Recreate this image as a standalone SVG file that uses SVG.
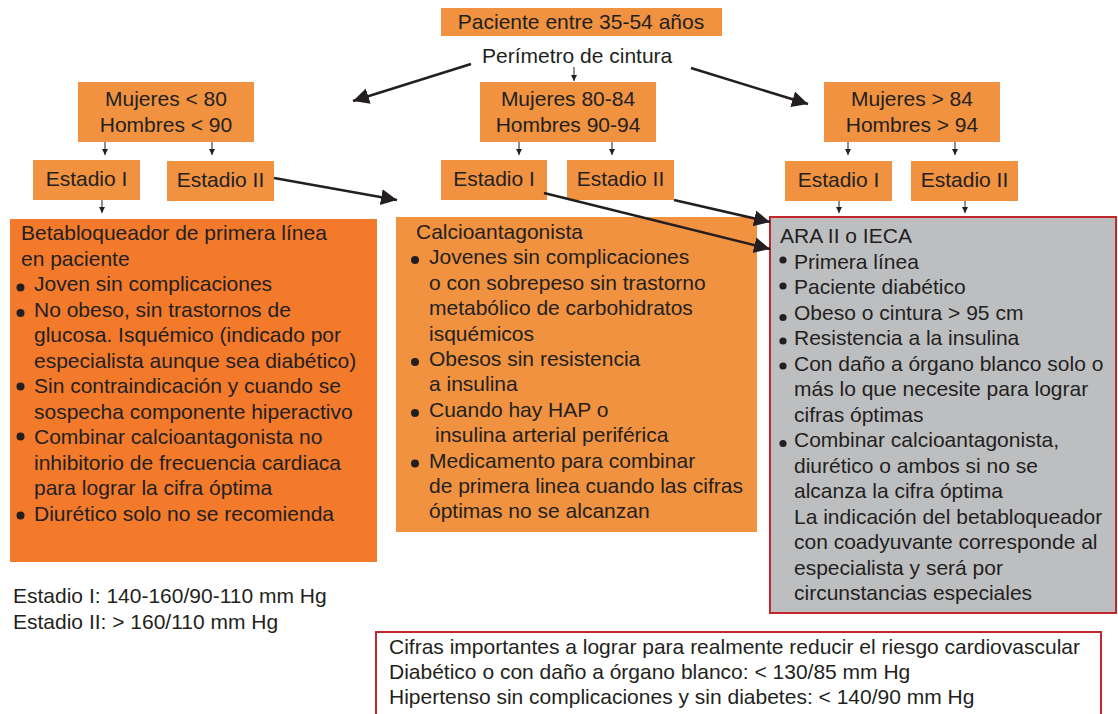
<svg xmlns="http://www.w3.org/2000/svg" width="1118" height="714" viewBox="0 0 1118 714">
<style>
text{font-family:"Liberation Sans",Arial,sans-serif;font-size:21px;fill:#231F20}
.c{text-anchor:middle}
.o{fill:#F0923F}
.od{fill:#F37A2B}
.g{fill:#BDBEC0;stroke:#C1272D;stroke-width:2}
.w{fill:#FFFFFF;stroke:#C1272D;stroke-width:2}
.big{stroke:#231F20;stroke-width:2.5;fill:none;marker-end:url(#ah)}
.sm{stroke:#231F20;stroke-width:1;fill:none;marker-end:url(#as)}
.b{fill:#231F20}
</style>
<defs>
<marker id="ah" markerUnits="userSpaceOnUse" markerWidth="20" markerHeight="20" viewBox="0 0 20 20" refX="16" refY="8" orient="auto">
<path d="M0,0 L16,8 L0,16 Z" fill="#231F20"/>
</marker>
<marker id="as" markerUnits="userSpaceOnUse" markerWidth="8" markerHeight="8" viewBox="0 0 8 8" refX="6" refY="3" orient="auto">
<path d="M0,0 L6,3 L0,6 Z" fill="#231F20"/>
</marker>
</defs>

<g id="n-top">
<rect class="o" x="441" y="8" width="281" height="28"/>
<text class="c" x="581" y="29">Paciente entre 35-54 años</text>
</g>
<g id="n-perimetro">
<text x="482" y="63">Perímetro de cintura</text>
</g>

<g id="n-m1">
<rect class="o" x="78" y="82" width="176" height="60"/>
<text class="c" x="166" y="106">Mujeres &lt; 80</text>
<text class="c" x="166" y="132">Hombres &lt; 90</text>
</g>
<g id="n-m2">
<rect class="o" x="480" y="82" width="176" height="60"/>
<text class="c" x="568" y="106">Mujeres 80-84</text>
<text class="c" x="568" y="132">Hombres 90-94</text>
</g>
<g id="n-m3">
<rect class="o" x="824" y="82" width="176" height="60"/>
<text class="c" x="912" y="106">Mujeres &gt; 84</text>
<text class="c" x="912" y="132">Hombres &gt; 94</text>
</g>

<g id="n-e1a"><rect class="o" x="33" y="160" width="107" height="40"/><text class="c" x="86.5" y="186">Estadio I</text></g>
<g id="n-e2a"><rect class="o" x="167" y="161" width="107" height="40"/><text class="c" x="220.5" y="187">Estadio II</text></g>
<g id="n-e1b"><rect class="o" x="441" y="160" width="106" height="40"/><text class="c" x="494" y="186">Estadio I</text></g>
<g id="n-e2b"><rect class="o" x="567" y="160" width="107" height="40"/><text class="c" x="620.5" y="186">Estadio II</text></g>
<g id="n-e1c"><rect class="o" x="785" y="161" width="107" height="40"/><text class="c" x="838.5" y="187">Estadio I</text></g>
<g id="n-e2c"><rect class="o" x="911" y="161" width="107" height="40"/><text class="c" x="964.5" y="187">Estadio II</text></g>

<g id="n-beta">
<rect class="od" x="10" y="219" width="367" height="343"/>
<text x="21" y="240">Betabloqueador de primera línea</text>
<text x="21" y="265.5">en paciente</text>
<circle class="b" cx="20.5" cy="287.5" r="4"/><text x="34" y="291">Joven sin complicaciones</text>
<circle class="b" cx="20.5" cy="313" r="4"/><text x="34" y="316.5">No obeso, sin trastornos de</text>
<text x="34" y="342">glucosa. Isquémico (indicado por</text>
<text x="34" y="367.5">especialista aunque sea diabético)</text>
<circle class="b" cx="20.5" cy="386.5" r="4"/><text x="34" y="393">Sin contraindicación y cuando se</text>
<text x="34" y="418.5">sospecha componente hiperactivo</text>
<circle class="b" cx="20.5" cy="436.5" r="4"/><text x="34" y="444">Combinar calcioantagonista no</text>
<text x="34" y="469.5">inhibitorio de frecuencia cardiaca</text>
<text x="34" y="495">para lograr la cifra óptima</text>
<circle class="b" cx="20.5" cy="515.5" r="4"/><text x="34" y="520.5">Diurético solo no se recomienda</text>
</g>

<g id="n-calcio">
<rect class="o" x="396" y="217" width="361" height="315"/>
<text x="416" y="239">Calcioantagonista</text>
<circle class="b" cx="415" cy="260" r="4"/><text x="429" y="264.4">Jovenes sin complicaciones</text>
<text x="429" y="289.8">o con sobrepeso sin trastorno</text>
<text x="429" y="315.2">metabólico de carbohidratos</text>
<text x="429" y="340.6">isquémicos</text>
<circle class="b" cx="415" cy="362" r="4"/><text x="429" y="366">Obesos sin resistencia</text>
<text x="429" y="391.4">a insulina</text>
<circle class="b" cx="415" cy="413" r="4"/><text x="429" y="416.8">Cuando hay HAP o</text>
<text x="435" y="442.2">insulina arterial periférica</text>
<circle class="b" cx="415" cy="463.5" r="4"/><text x="429" y="467.6">Medicamento para combinar</text>
<text x="429" y="493">de primera linea cuando las cifras</text>
<text x="429" y="518.4">óptimas no se alcanzan</text>
</g>

<g id="n-ara">
<rect class="g" x="770" y="217" width="346" height="396"/>
<text x="780" y="243">ARA II o IECA</text>
<circle class="b" cx="783" cy="260" r="3.6"/><text x="794" y="268.5">Primera línea</text>
<circle class="b" cx="783" cy="286" r="3.6"/><text x="794" y="294">Paciente diabético</text>
<circle class="b" cx="783" cy="317.5" r="3.6"/><text x="794" y="319.5">Obeso o cintura &gt; 95 cm</text>
<circle class="b" cx="783" cy="341" r="3.6"/><text x="794" y="345">Resistencia a la insulina</text>
<circle class="b" cx="783" cy="366" r="3.6"/><text x="794" y="370.5">Con daño a órgano blanco solo o</text>
<text x="794" y="396">más lo que necesite para lograr</text>
<text x="794" y="421.5">cifras óptimas</text>
<circle class="b" cx="783" cy="443.5" r="3.6"/><text x="794" y="447">Combinar calcioantagonista,</text>
<text x="794" y="472.5">diurético o ambos si no se</text>
<text x="794" y="498">alcanza la cifra óptima</text>
<text x="794" y="523.5">La indicación del betabloqueador</text>
<text x="794" y="549">con coadyuvante corresponde al</text>
<text x="794" y="574.5">especialista y será por</text>
<text x="794" y="600">circunstancias especiales</text>
</g>

<g id="n-legend">
<text x="13" y="603">Estadio I: 140-160/90-110 mm Hg</text>
<text x="13" y="629">Estadio II: &gt; 160/110 mm Hg</text>
</g>

<g id="n-cifras">
<rect class="w" x="376" y="632" width="725" height="90"/>
<text x="389" y="654">Cifras importantes a lograr para realmente reducir el riesgo cardiovascular</text>
<text x="389" y="679">Diabético o con daño a órgano blanco: &lt; 130/85 mm Hg</text>
<text x="389" y="704">Hipertenso sin complicaciones y sin diabetes: &lt; 140/90 mm Hg</text>
</g>

<g id="connectors">
<line class="sm" x1="574" y1="67" x2="574" y2="81"/>
<line class="big" x1="471" y1="64" x2="353" y2="101"/>
<line class="big" x1="691" y1="68" x2="808" y2="104"/>
<line class="sm" x1="105" y1="142" x2="105" y2="155"/>
<line class="sm" x1="212" y1="142" x2="212" y2="155"/>
<line class="sm" x1="519" y1="142" x2="519" y2="155"/>
<line class="sm" x1="612" y1="142" x2="612" y2="155"/>
<line class="sm" x1="848" y1="142" x2="848" y2="155"/>
<line class="sm" x1="955" y1="142" x2="955" y2="155"/>
<line class="sm" x1="102" y1="200" x2="102" y2="213"/>
<line class="sm" x1="839" y1="201" x2="839" y2="213"/>
<line class="sm" x1="965" y1="201" x2="965" y2="213"/>
<line class="big" x1="274" y1="178" x2="397" y2="200"/>
<line class="big" x1="674" y1="200" x2="770" y2="222"/>
<line class="big" x1="544" y1="193" x2="770" y2="249"/>
</g>
</svg>
